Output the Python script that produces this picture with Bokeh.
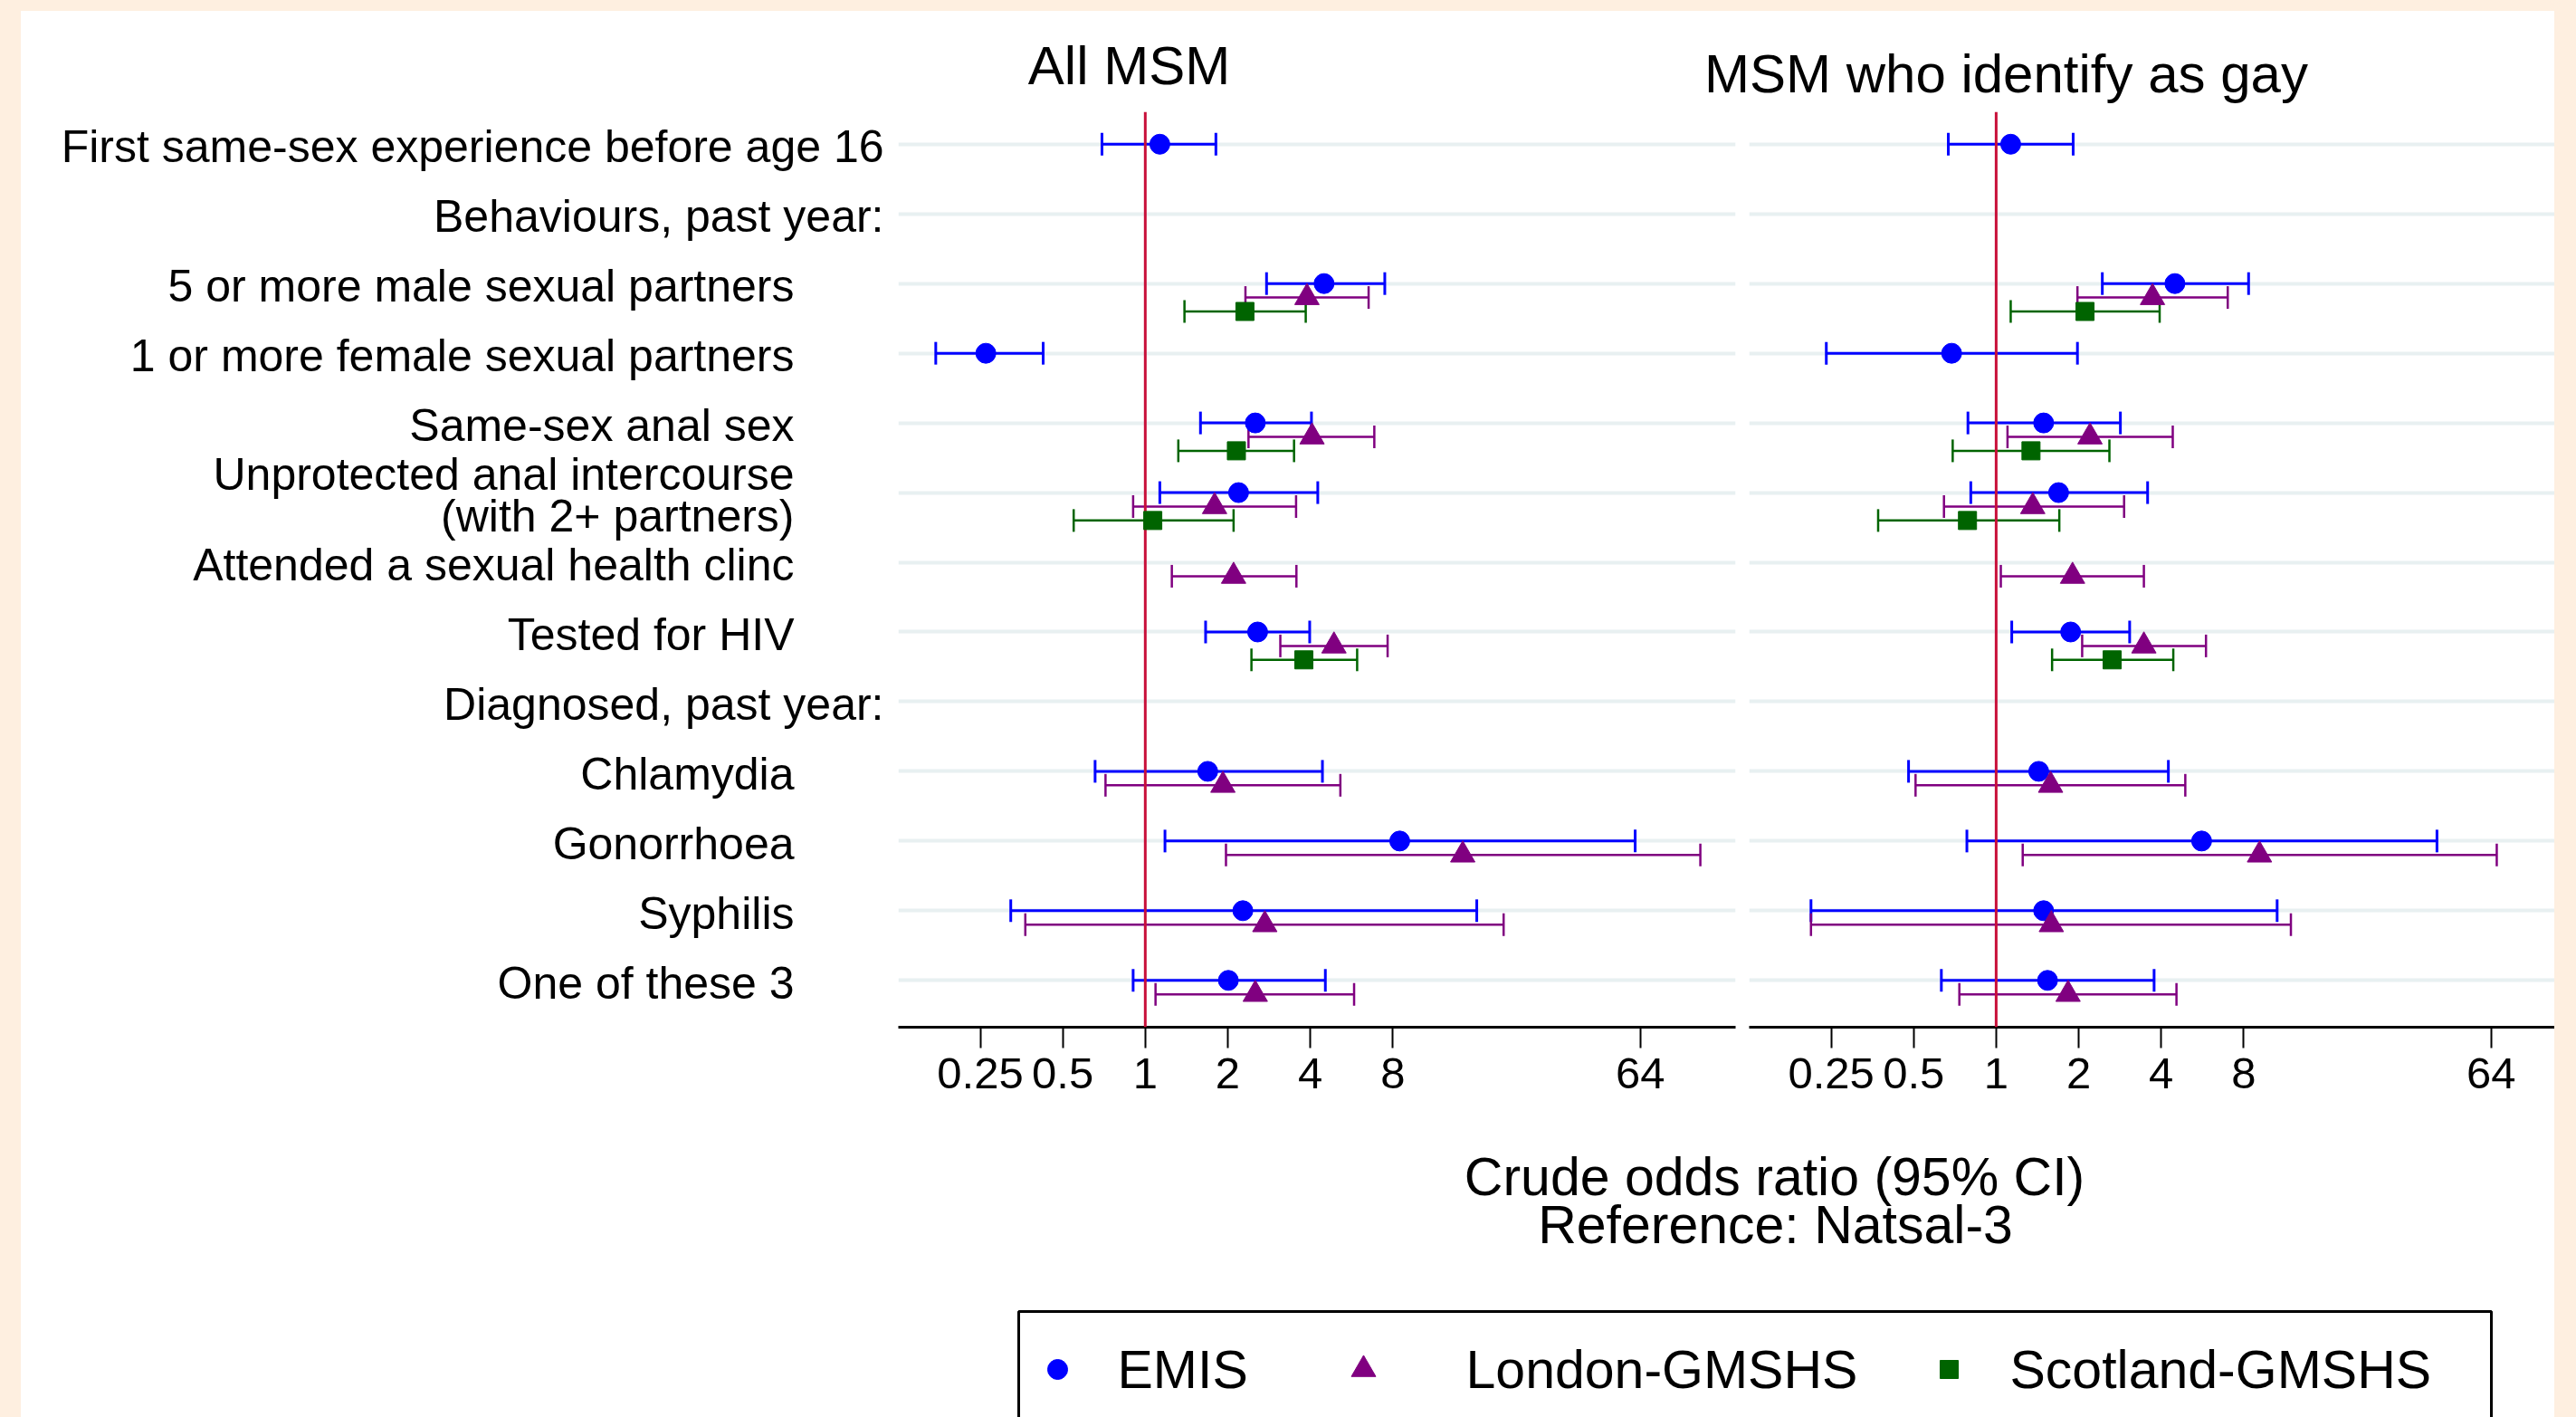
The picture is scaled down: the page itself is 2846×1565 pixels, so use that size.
import math
from bokeh.plotting import figure
from bokeh.models import (Range1d, FixedTicker, Whisker, TeeHead, Span,
                          ColumnDataSource, Spacer, GlobalInlineStyleSheet)
from bokeh.layouts import row, column
from bokeh.core.properties import value
from bokeh.embed import file_html
from bokeh.resources import INLINE

# ---------------- data ----------------
CATEGORIES = [
    "First same-sex experience before age 16",
    "Behaviours, past year:",
    "5 or more male sexual partners",
    "1 or more female sexual partners",
    "Same-sex anal sex",
    "Unprotected anal intercourse\n(with 2+ partners)",
    "Attended a sexual health clinc",
    "Tested for HIV",
    "Diagnosed, past year:",
    "Chlamydia",
    "Gonorrhoea",
    "Syphilis",
    "One of these 3",
]
INDENTED = [0, 0, 1, 1, 1, 1, 1, 1, 0, 1, 1, 1, 1]

PANEL_TITLES = ["All MSM", "MSM who identify as gay"]
SERIES = ["EMIS", "London-GMSHS", "Scotland-GMSHS"]
TICKS = [0.25, 0.5, 1, 2, 4, 8, 64]
TICK_LABELS = ["0.25", "0.5", "1", "2", "4", "8", "64"]
AXIS_TITLE = ["Crude odds ratio (95% CI)", "Reference: Natsal-3"]
REFERENCE_OR = 1
N = None

# All MSM
ALL_EMIS_OR = [1.13, N, 4.49, 0.262, 2.52, 2.19, N, 2.57, N, 1.69, 8.48, 2.27, 2.01]
ALL_EMIS_LO = [0.695, N, 2.77, 0.172, 1.59, 1.13, N, 1.66, N, 0.656, 1.18, 0.323, 0.903]
ALL_EMIS_HI = [1.81, N, 7.48, 0.424, 4.04, 4.26, N, 3.98, N, 4.43, 61.3, 16.2, 4.54]
ALL_LON_OR = [N, N, 3.89, N, 4.06, 1.79, 2.10, 4.88, N, 1.92, 14.4, 2.73, 2.52]
ALL_LON_LO = [N, N, 2.32, N, 2.38, 0.903, 1.25, 3.11, N, 0.716, 1.97, 0.365, 1.09]
ALL_LON_HI = [N, N, 6.53, N, 6.85, 3.55, 3.56, 7.66, N, 5.15, 106.0, 20.3, 5.78]
ALL_SCO_OR = [N, N, 2.31, N, 2.15, 1.065, N, 3.79, N, N, N, N, N]
ALL_SCO_LO = [N, N, 1.39, N, 1.32, 0.548, N, 2.44, N, N, N, N, N]
ALL_SCO_HI = [N, N, 3.85, N, 3.49, 2.10, N, 5.93, N, N, N, N, N]

# MSM who identify as gay
GAY_EMIS_OR = [1.13, N, 4.49, 0.688, 1.49, 1.69, N, 1.87, N, 1.43, 5.62, 1.49, 1.54]
GAY_EMIS_LO = [0.669, N, 2.44, 0.240, 0.789, 0.808, N, 1.14, N, 0.479, 0.782, 0.211, 0.631]
GAY_EMIS_HI = [1.91, N, 8.34, 1.98, 2.84, 3.57, N, 3.07, N, 4.25, 40.6, 10.6, 3.77]
GAY_LON_OR = [N, N, 3.72, N, 2.20, 1.36, 1.90, 3.46, N, 1.58, 9.14, 1.59, 1.83]
GAY_LON_LO = [N, N, 1.98, N, 1.10, 0.645, 1.04, 2.06, N, 0.508, 1.25, 0.211, 0.734]
GAY_LON_HI = [N, N, 7.0, N, 4.41, 2.93, 3.46, 5.83, N, 4.90, 67.1, 11.9, 4.55]
GAY_SCO_OR = [N, N, 2.11, N, 1.34, 0.786, N, 2.65, N, N, N, N, N]
GAY_SCO_LO = [N, N, 1.13, N, 0.694, 0.371, N, 1.60, N, N, N, N, N]
GAY_SCO_HI = [N, N, 3.95, N, 2.59, 1.70, N, 4.43, N, N, N, N, N]

PANELS = [
    [(ALL_EMIS_OR, ALL_EMIS_LO, ALL_EMIS_HI),
     (ALL_LON_OR, ALL_LON_LO, ALL_LON_HI),
     (ALL_SCO_OR, ALL_SCO_LO, ALL_SCO_HI)],
    [(GAY_EMIS_OR, GAY_EMIS_LO, GAY_EMIS_HI),
     (GAY_LON_OR, GAY_LON_LO, GAY_LON_HI),
     (GAY_SCO_OR, GAY_SCO_LO, GAY_SCO_HI)],
]

# ---------------- styles / layout ----------------
FONT = "Liberation Sans"
BG = "#FEEFE0"
RED = "#C8103A"
GRID = "#E8F0F1"
COLORS = ["#0000FF", "#800080", "#006400"]
MARKERS = ["circle", "triangle", "square"]
MSIZES = [22, 27, 20]
LWIDTHS = [3, 2.5, 2.5]
OFFSETS = [0.0, 0.2, 0.4]

TOP_H = 1127
MB_BOTTOM = 116
Y_RANGE = Range1d(start=12.672, end=-0.465)

PANEL_WIDTHS = [940, 890]
PANEL_MB_RIGHT = [15, 0]
PANEL_XRANGES = [(2 ** -2.993, 2 ** 7.155), (2 ** -2.994, 2 ** 6.771)]
TITLE_X = [1247, 2216]
TITLE_Y = [72, 81]


def base_fig(**kw):
    p = figure(toolbar_location=None, output_backend="svg", min_border=0,
               outline_line_color=None, border_fill_color="white",
               background_fill_color="white", **kw)
    return p


# title strip
top = base_fig(width=2799, height=111, x_range=Range1d(23, 2822), y_range=Range1d(123, 12),
               x_axis_location=None, y_axis_location=None)
top.xgrid.visible = False
top.ygrid.visible = False
top.text(x=TITLE_X, y=TITLE_Y, text=PANEL_TITLES, text_align="center",
         text_baseline="middle", text_font=value(FONT), text_font_size="60px",
         text_color="black")

# label column
lab = base_fig(width=969, height=TOP_H, x_range=Range1d(23, 992), y_range=Y_RANGE,
               x_axis_location=None, y_axis_location=None,
               min_border_bottom=MB_BOTTOM)
lab.xgrid.visible = False
lab.ygrid.visible = False
lab_src = ColumnDataSource(dict(
    x=[877 if ind else 976 for ind in INDENTED],
    y=list(range(len(CATEGORIES))),
    t=CATEGORIES,
))
lab.text(x="x", y="y", text="t", source=lab_src, text_align="right",
         text_baseline="middle", text_font=value(FONT), text_font_size="50px",
         text_color="black", text_line_height=0.82, y_offset=3)

figs = []
marker_jobs = []
for i, data in enumerate(PANELS):
    x0, x1 = PANEL_XRANGES[i]
    p = base_fig(width=PANEL_WIDTHS[i], height=TOP_H, x_axis_type="log",
                 x_range=Range1d(x0, x1), y_range=Y_RANGE, y_axis_location=None,
                 min_border_bottom=MB_BOTTOM, min_border_right=PANEL_MB_RIGHT[i])
    p.xgrid.visible = False
    p.ygrid.ticker = FixedTicker(ticks=list(range(len(CATEGORIES))))
    p.ygrid.grid_line_color = GRID
    p.ygrid.grid_line_width = 4

    ax = p.xaxis[0]
    ax.ticker = FixedTicker(ticks=TICKS)
    ax.major_label_overrides = {t: l for t, l in zip(TICKS, TICK_LABELS)}
    ax.axis_line_color = "black"
    ax.axis_line_width = 3
    ax.major_tick_line_color = "black"
    ax.major_tick_line_width = 2
    ax.minor_tick_line_color = None
    ax.major_tick_out = 23
    ax.major_tick_in = 0
    ax.major_label_standoff = 11
    ax.major_label_text_font = FONT
    ax.major_label_text_font_size = "49px"
    ax.major_label_text_color = "black"

    for s, (est, lo, hi) in enumerate(data):
        rows = [k for k in range(len(est)) if est[k] is not None]
        src = ColumnDataSource(dict(
            y=[k + OFFSETS[s] for k in rows],
            est=[est[k] for k in rows],
            lo=[lo[k] for k in rows],
            hi=[hi[k] for k in rows],
        ))
        w = Whisker(source=src, base="y", lower="lo", upper="hi", dimension="width",
                    line_color=COLORS[s], line_width=LWIDTHS[s], level="glyph",
                    lower_head=TeeHead(size=25, line_color=COLORS[s], line_width=LWIDTHS[s]),
                    upper_head=TeeHead(size=25, line_color=COLORS[s], line_width=LWIDTHS[s]))
        p.add_layout(w)
        marker_jobs.append((p, src, s))

    # reference line at OR = 1
    p.add_layout(Span(location=REFERENCE_OR, dimension="height", line_color=RED,
                      line_width=3, level="annotation"))
    figs.append(p)

for p, src, s in marker_jobs:
    p.scatter("est", "y", source=src, marker=MARKERS[s], size=MSIZES[s],
              color=COLORS[s], level="overlay")

left_fig, right_fig = figs

# bottom: axis title and legend
bot = base_fig(width=2799, height=315, x_range=Range1d(23, 2822),
               y_range=Range1d(1565, 1250), x_axis_location=None, y_axis_location=None)
bot.xgrid.visible = False
bot.ygrid.visible = False
bot.text(x=[1960, 1961], y=[1299, 1352], text=AXIS_TITLE, text_align="center",
         text_baseline="middle", text_font=value(FONT), text_font_size="59px",
         text_color="black")
bot.quad(left=[1125], right=[2752], top=[1448], bottom=[1620], fill_color=None,
         line_color="black", line_width=3)
LEG_MARK_X = [1168, 1506, 2153]
LEG_TEXT_X = [1234, 1619, 2220]
LEG_Y = 1512
for s in range(3):
    bot.scatter(x=[LEG_MARK_X[s]], y=[LEG_Y], marker=MARKERS[s], size=MSIZES[s],
                color=COLORS[s])
bot.text(x=LEG_TEXT_X, y=[LEG_Y] * 3, text=SERIES, text_align="left",
         text_baseline="middle", text_font=value(FONT), text_font_size="59px",
         text_color="black")

content = column(top, row(lab, left_fig, right_fig, styles={"background-color": "white"}),
                 bot, styles={"background-color": "white"})
root = column(Spacer(width=10, height=12), row(Spacer(width=23, height=10), content),
              stylesheets=[GlobalInlineStyleSheet(css=f"body {{ background-color: {BG}; }}")])

open("out.html", "w").write(file_html(root, INLINE))
